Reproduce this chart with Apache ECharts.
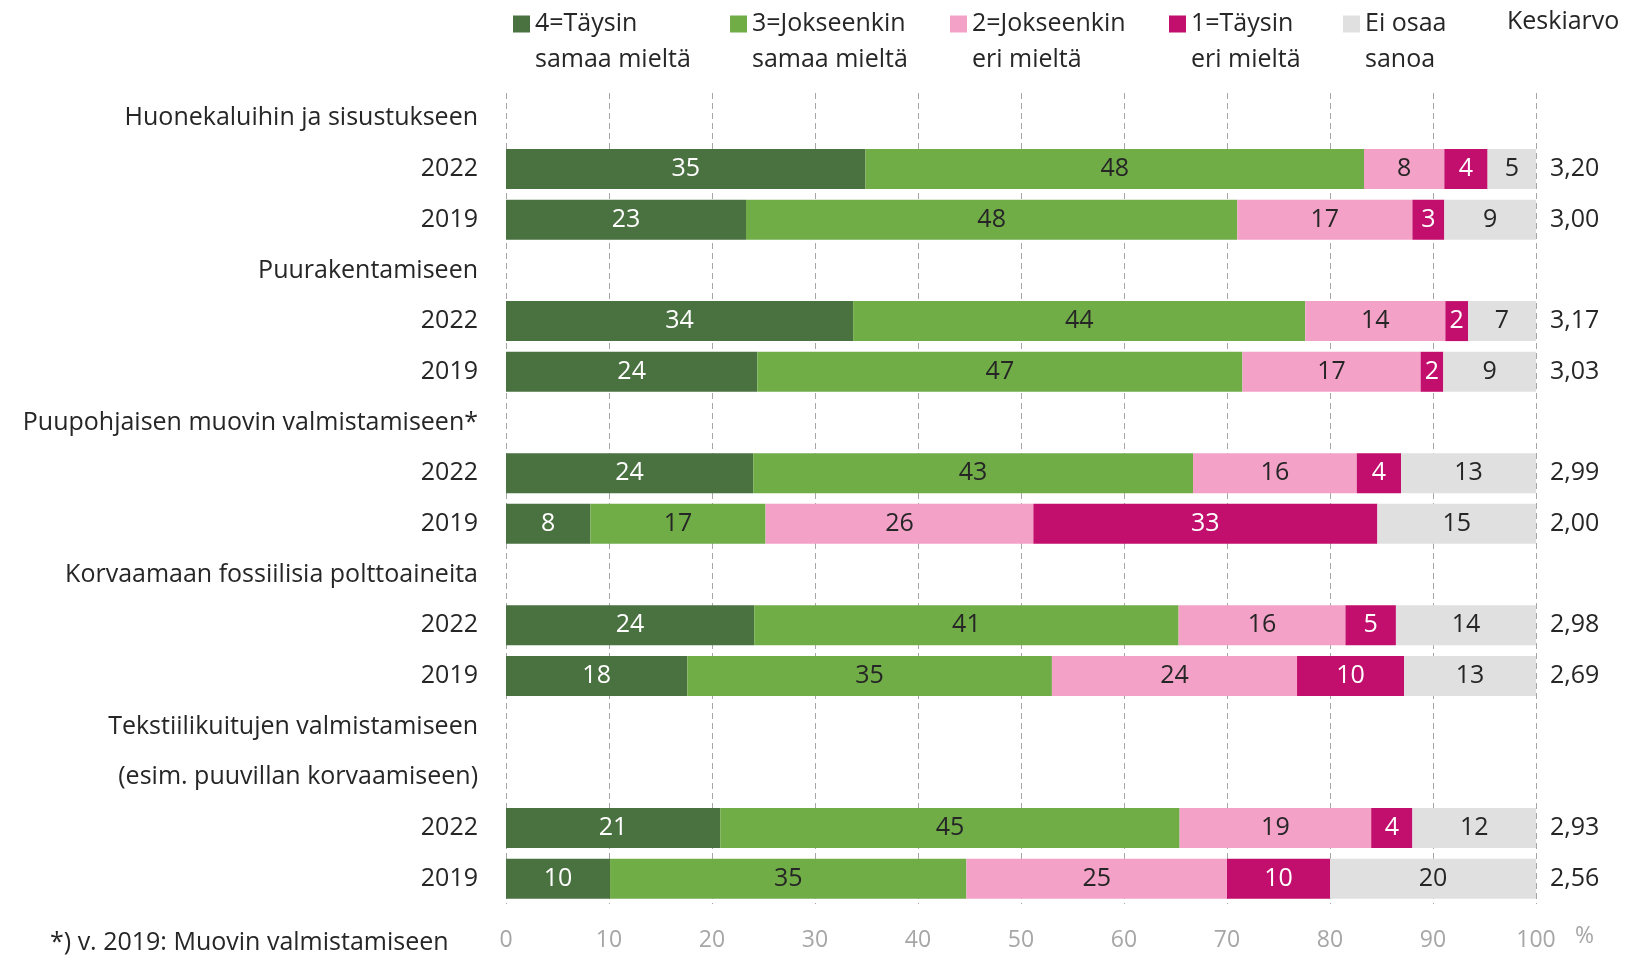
<!DOCTYPE html>
<html>
<head>
<meta charset="utf-8">
<script src="https://cdn.jsdelivr.net/npm/echarts@6/dist/echarts.min.js"></script>
<style>
  html, body { margin: 0; padding: 0; background: #fff; }
  #chart { width: 1627px; height: 958px; }
</style>
</head>
<body>
<div id="chart"></div>
<script>
// rivit (otsikkorivit ilman palkkeja)
var categories = ['Huonekaluihin ja sisustukseen', '2022', '2019', 'Puurakentamiseen', '2022', '2019',
  'Puupohjaisen muovin valmistamiseen*', '2022', '2019', 'Korvaamaan fossiilisia polttoaineita', '2022', '2019',
  'Tekstiilikuitujen valmistamiseen', '(esim. puuvillan korvaamiseen)', '2022', '2019'];

var seriesNames = ['4=Täysin samaa mieltä', '3=Jokseenkin samaa mieltä', '2=Jokseenkin eri mieltä', '1=Täysin eri mieltä', 'Ei osaa sanoa'];

var taysinSamaa     = ['-', 34.9, 23.3, '-', 33.7, 24.4, '-', 24.0, 8.2, '-', 24.1, 17.6, '-', '-', 20.8, 10.1];
var jokseenkinSamaa = ['-', 48.4, 47.7, '-', 43.9, 47.1, '-', 42.7, 17.0, '-', 41.2, 35.4, '-', '-', 44.6, 34.6];
var jokseenkinEri   = ['-', 7.8, 17.0, '-', 13.6, 17.3, '-', 15.9, 26.0, '-', 16.2, 23.8, '-', '-', 18.6, 25.3];
var taysinEri       = ['-', 4.2, 3.1, '-', 2.2, 2.2, '-', 4.3, 33.4, '-', 4.9, 10.4, '-', '-', 4.0, 10.0];
var eiOsaa          = ['-', 4.7, 8.9, '-', 6.6, 9.0, '-', 13.1, 15.4, '-', 13.6, 12.8, '-', '-', 12.0, 20.0];

var keskiarvo = [null, 3.20, 3.00, null, 3.17, 3.03, null, 2.99, 2.00, null, 2.98, 2.69, null, null, 2.93, 2.56];

var xMin = 0, xMax = 100, xStep = 10;

var colors = ['#4a7140', '#70ad47', '#f4a1c8', '#c20f6d', '#e0e0e0'];
var labelColors = ['#ffffff', '#262626', '#262626', '#ffffff', '#262626'];
var legendLeft = [513, 730, 950, 1169, 1343];
var font = 'Open Sans';

var chart = echarts.init(document.getElementById('chart'));

var allData = [taysinSamaa, jokseenkinSamaa, jokseenkinEri, taysinEri, eiOsaa];

var series = allData.map(function (d, i) {
  return {
    name: seriesNames[i],
    type: 'bar',
    stack: 'total',
    data: d,
    barWidth: 40,
    itemStyle: { color: colors[i] },
    label: {
      show: true,
      position: 'inside',
      color: labelColors[i],
      fontFamily: font,
      fontSize: 25,
      formatter: function (p) { return Math.round(p.value); }
    }
  };
});

// legenda: yksi komponentti per sarja, toinen rivi grafiikkana
var legends = seriesNames.map(function (n, i) {
  return {
    data: [n],
    left: legendLeft[i],
    top: 9,
    padding: 0,
    icon: 'rect',
    itemWidth: 17,
    itemHeight: 17,
    selectedMode: false,
    textStyle: { fontFamily: font, fontSize: 25, color: '#262626', lineHeight: 30 },
    formatter: function (name) {
      var k = name.indexOf(' ');
      if (name.indexOf('Ei') === 0) return 'Ei osaa';
      return name.substring(0, k);
    }
  };
});
var secondLines = ['samaa mieltä', 'samaa mieltä', 'eri mieltä', 'eri mieltä', 'sanoa'];

var graphics = secondLines.map(function (t, i) {
  return {
    type: 'text', left: legendLeft[i] + 22, top: 47,
    style: { text: t, fontFamily: font, fontSize: 25, fill: '#262626' }
  };
});
graphics.push({ type: 'text', left: 1507, top: 9,
  style: { text: 'Keskiarvo', fontFamily: font, fontSize: 25, fill: '#262626' } });
graphics.push({ type: 'text', left: 1575, top: 925,
  style: { text: '%', fontFamily: font, fontSize: 23, fill: '#a6a6a6' } });
graphics.push({ type: 'text', left: 50, top: 930,
  style: { text: '*) v. 2019: Muovin valmistamiseen', fontFamily: font, fontSize: 25, fill: '#262626' } });

var option = {
  backgroundColor: '#ffffff',
  animation: false,
  legend: legends,
  graphic: graphics,
  grid: { left: 506, right: 91, top: 93, bottom: 54 },
  xAxis: {
    type: 'value',
    min: xMin,
    max: xMax,
    interval: xStep,
    axisLine: { show: false },
    axisTick: { show: false },
    axisLabel: { color: '#a6a6a6', fontFamily: font, fontSize: 23, margin: 25 },
    splitLine: { show: true, lineStyle: { color: '#a6a6a6', type: [6, 4], width: 1 } }
  },
  yAxis: [{
    type: 'category',
    data: categories,
    inverse: true,
    axisLine: { show: false },
    axisTick: { show: false },
    axisLabel: { color: '#262626', fontFamily: font, fontSize: 25, margin: 28 }
  }, {
    type: 'category',
    data: categories,
    inverse: true,
    position: 'right',
    axisLine: { show: false },
    axisTick: { show: false },
    axisLabel: {
      color: '#262626', fontFamily: font, fontSize: 25, margin: 14,
      formatter: function (v, idx) {
        var m = keskiarvo[idx];
        return m == null ? '' : m.toFixed(2).replace('.', ',');
      }
    }
  }],
  series: series
};

chart.setOption(option);
</script>
</body>
</html>
